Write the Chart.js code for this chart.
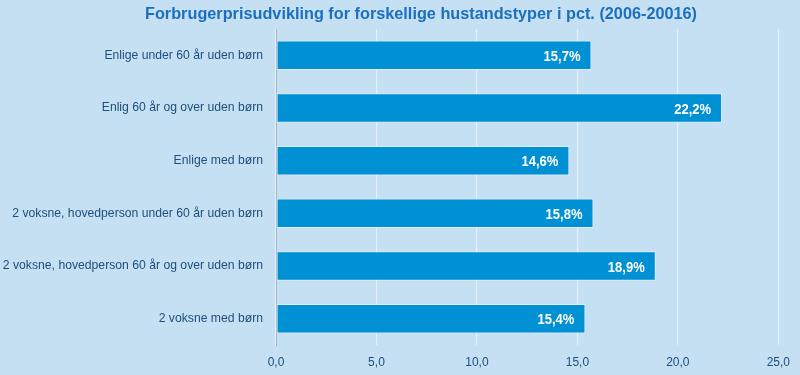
<!DOCTYPE html>
<html>
<head>
<meta charset="utf-8">
<script src="https://cdn.jsdelivr.net/npm/chart.js@4"></script>
<style>
  html, body { margin: 0; padding: 0; background: #c5dff3; }
  #wrap { width: 800px; height: 375px; }
</style>
</head>
<body>
<div id="wrap"><canvas id="chart" width="800" height="375"></canvas></div>
<script>
// data
const titleText = 'Forbrugerprisudvikling for forskellige hustandstyper i pct. (2006-20016)';
const categories = [
    'Enlige under 60 år uden børn',
    'Enlig 60 år og over uden børn',
    'Enlige med børn',
    '2 voksne, hovedperson under 60 år uden børn',
    '2 voksne, hovedperson 60 år og over uden børn',
    '2 voksne med børn'
];
const values = [15.7, 22.2, 14.6, 15.8, 18.9, 15.4];
const axisMin = 0;
const axisMax = 25;
const axisStep = 5;

const sans = '"Liberation Sans", Arial, sans-serif';
const textBlue = '#1f4f7c';

const comma = (v, d) => v.toFixed(d).replace('.', ',');

// squeeze text sideways to imitate the narrow face of the original
function narrowText(ctx, text, x, y, squeeze) {
    ctx.save();
    ctx.translate(x, y);
    ctx.scale(squeeze, 1);
    ctx.fillText(text, 0, 0);
    ctx.restore();
}

// background + title drawn by hand
const backdrop = {
    id: 'backdrop',
    beforeDraw(chart) {
        const ctx = chart.ctx;
        ctx.save();
        ctx.fillStyle = '#c5dff3';
        ctx.fillRect(0, 0, chart.width, chart.height);
        ctx.restore();
    },
    afterDraw(chart) {
        const ctx = chart.ctx;
        ctx.save();
        ctx.font = 'bold 17px ' + sans;
        ctx.fillStyle = '#1b6fbd';
        ctx.textAlign = 'left';
        ctx.textBaseline = 'alphabetic';
        const w = ctx.measureText(titleText).width;
        narrowText(ctx, titleText, 145, 19, 552 / w);
        ctx.restore();
    }
};

// value labels inside the bar ends
const barLabels = {
    id: 'barLabels',
    afterDatasetsDraw(chart) {
        const ctx = chart.ctx;
        const meta = chart.getDatasetMeta(0);
        ctx.save();
        ctx.font = 'bold 15.5px ' + sans;
        ctx.fillStyle = '#ffffff';
        ctx.textAlign = 'right';
        ctx.textBaseline = 'middle';
        meta.data.forEach((bar, i) => {
            narrowText(ctx, comma(values[i], 1) + '%', bar.x - 11, bar.y + 1.5, 0.84);
        });
        ctx.restore();
    }
};

new Chart(document.getElementById('chart'), {
    type: 'bar',
    data: {
        labels: categories,
        datasets: [{
            data: values,
            backgroundColor: '#0090d4',
            borderColor: '#e2eff9',
            borderWidth: 1,
            borderSkipped: false,
            categoryPercentage: 1,
            barPercentage: 0.56
        }]
    },
    options: {
        indexAxis: 'y',
        responsive: false,
        animation: false,
        layout: { padding: { top: 29, right: 19, bottom: 0, left: 0 } },
        plugins: {
            legend: { display: false },
            tooltip: { enabled: false }
        },
        scales: {
            x: {
                min: axisMin,
                max: axisMax,
                grid: { color: '#e4f0fa', lineWidth: 1.2, drawTicks: false },
                border: { display: false },
                ticks: {
                    stepSize: axisStep,
                    padding: 10,
                    color: textBlue,
                    font: { family: sans, size: 12 },
                    callback: v => comma(v, 1)
                },
                afterFit(axis) { axis.height = 30; }
            },
            y: {
                grid: { display: false, drawTicks: false },
                border: { display: true, color: '#a9b4bf', width: 1 },
                ticks: {
                    padding: 13,
                    color: textBlue,
                    font: { family: sans, size: 12.2 }
                },
                afterFit(axis) { axis.width = 276; }
            }
        }
    },
    plugins: [backdrop, barLabels]
});
</script>
</body>
</html>
